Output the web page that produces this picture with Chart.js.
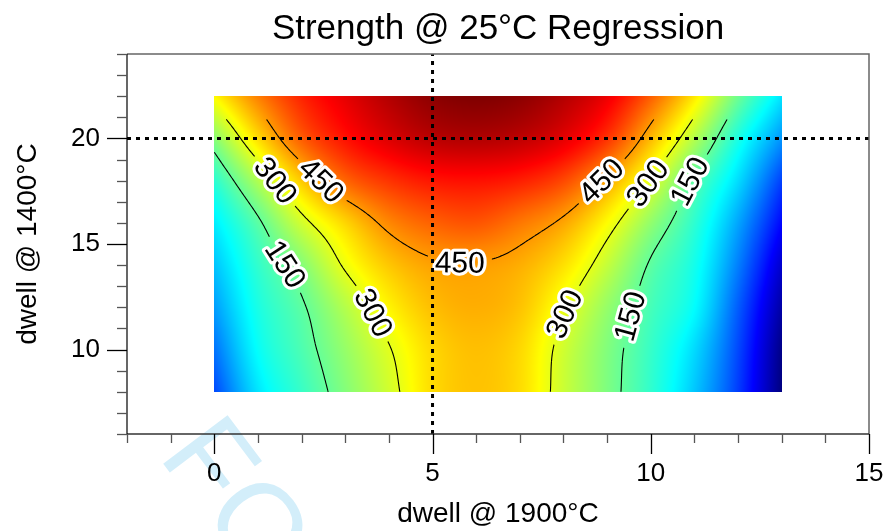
<!DOCTYPE html>
<html>
<head>
<meta charset="utf-8">
<title>Strength @ 25°C Regression</title>
<script src="https://cdn.jsdelivr.net/npm/chart.js@4.4.1/dist/chart.umd.min.js"></script>
<style>
  html, body { margin: 0; padding: 0; background: #ffffff; }
  #wrap { width: 889px; height: 531px; }
</style>
</head>
<body>
<div id="wrap"><canvas id="chart" width="889" height="531"></canvas></div>
<script>
// ---- regression surface samples (strength), rows = dwell @ 1400°C, columns = dwell @ 1900°C
const gridX = [0, 1, 2, 3, 4, 5, 6, 7, 8, 9, 10, 11, 12, 13];
const gridY = [8, 10, 12, 14, 16, 18, 20, 22];
const rowY8  = [-185,   0,  95, 185, 275, 370, 400, 370, 268, 178,  86, -36, -200, -420];
const rowY10 = [-135,  35, 120, 207, 295, 375, 405, 375, 275, 183,  94, -12, -185, -410];
const rowY12 = [ -85,  59, 140, 242, 340, 405, 425, 400, 310, 207, 113,  30, -160, -375];
const rowY14 = [ -40,  88, 187, 310, 395, 440, 446, 425, 365, 261, 141,  52, -120, -330];
const rowY16 = [  10, 137, 276, 378, 470, 515, 530, 490, 435, 331, 203,  83,  -75, -265];
const rowY18 = [  80, 237, 392, 510, 570, 605, 612, 595, 545, 436, 297, 136,  -10, -195];
const rowY20 = [ 190, 369, 520, 610, 670, 710, 720, 705, 660, 570, 412, 242,   62,  -95];
const rowY22 = [ 335, 480, 590, 660, 720, 765, 780, 765, 720, 650, 520, 356,  160,    0];
const strength = [rowY8, rowY10, rowY12, rowY14, rowY16, rowY18, rowY20, rowY22];

// colour scale limits and contour settings
const colorMin = -420;
const colorMax = 780;
const contourLevels = [150, 300, 450];
const contourTopY = 20.9;

// contour labels: level and approximate anchor
const labelLevels = [150, 300, 300, 450, 450, 450, 300, 150, 300, 150];
const labelX = [1.70, 1.39, 3.57, 2.46, 5.64, 8.87, 9.94, 10.90, 8.03, 9.48];
const labelY = [14.10, 18.00, 11.67, 18.03, 14.16, 17.95, 17.88, 17.95, 11.67, 11.58];

// cross-hair at the selected point
const crossX = 5;
const crossY = 20;

// axes
const xAxisMin = -2, xAxisMax = 15;
const yAxisMin = 6, yAxisMax = 24;
const majorStep = 5;

const FONT = '"Liberation Sans", Arial, Helvetica, sans-serif';
const stampText = 'FOR REVIEW';

// ---- surface evaluation (Catmull-Rom bicubic through the samples)
const nCols = gridX.length, nRows = gridY.length;
function gv(i, j) {
  if (i < 0) return 2 * gv(0, j) - gv(1, j);
  if (i > nCols - 1) return 2 * gv(nCols - 1, j) - gv(nCols - 2, j);
  if (j < 0) return 2 * gv(i, 0) - gv(i, 1);
  if (j > nRows - 1) return 2 * gv(i, nRows - 1) - gv(i, nRows - 2);
  return strength[j][i];
}
function cr(p0, p1, p2, p3, t) {
  return 0.5 * (2 * p1 + (-p0 + p2) * t + (2 * p0 - 5 * p1 + 4 * p2 - p3) * t * t +
    (-p0 + 3 * p1 - 3 * p2 + p3) * t * t * t);
}
function field(xv, yv) {
  const fx = (xv - gridX[0]) / (gridX[1] - gridX[0]);
  const fy = (yv - gridY[0]) / (gridY[1] - gridY[0]);
  const i = Math.max(0, Math.min(nCols - 2, Math.floor(fx)));
  const j = Math.max(0, Math.min(nRows - 2, Math.floor(fy)));
  const tx = fx - i, ty = fy - j;
  const r = [];
  for (let m = -1; m <= 2; m++) {
    r.push(cr(gv(i - 1, j + m), gv(i, j + m), gv(i + 1, j + m), gv(i + 2, j + m), tx));
  }
  return cr(r[0], r[1], r[2], r[3], ty);
}
function clamp01(v) { return v < 0 ? 0 : v > 1 ? 1 : v; }
function jet(t) {
  t = clamp01(t);
  return [
    255 * clamp01(1.5 - Math.abs(4 * t - 3)),
    255 * clamp01(1.5 - Math.abs(4 * t - 2)),
    255 * clamp01(1.5 - Math.abs(4 * t - 1))
  ];
}

// ---- contour extraction (marching squares on a fine resample)
function contourSegments(level) {
  const step = 0.05;
  const ni = Math.round((gridX[nCols - 1] - gridX[0]) / step);
  const nj = Math.round((contourTopY - gridY[0]) / step);
  const xs = [], ys = [];
  for (let i = 0; i <= ni; i++) xs.push(gridX[0] + i * step);
  for (let j = 0; j <= nj; j++) ys.push(Math.min(contourTopY, gridY[0] + j * step));
  const F = ys.map(yy => xs.map(xx => field(xx, yy)));
  const segs = [];
  for (let j = 0; j < nj; j++) {
    for (let i = 0; i < ni; i++) {
      const a = F[j][i], b = F[j][i + 1], c = F[j + 1][i + 1], d = F[j + 1][i];
      const x0 = xs[i], x1 = xs[i + 1], y0 = ys[j], y1 = ys[j + 1];
      const p = [];
      if ((a - level) * (b - level) < 0) p.push([x0 + (x1 - x0) * (level - a) / (b - a), y0]);
      if ((b - level) * (c - level) < 0) p.push([x1, y0 + (y1 - y0) * (level - b) / (c - b)]);
      if ((c - level) * (d - level) < 0) p.push([x1 + (x0 - x1) * (level - c) / (d - c), y1]);
      if ((d - level) * (a - level) < 0) p.push([x0, y1 + (y0 - y1) * (level - d) / (a - d)]);
      if (p.length >= 2) segs.push([p[0], p[1]]);
      if (p.length === 4) segs.push([p[2], p[3]]);
    }
  }
  return segs;
}
const contours = contourLevels.map(level => ({ level, segs: contourSegments(level) }));

// ---- plugin: colour surface, contour lines and their labels
const surfacePlugin = {
  id: 'surface',
  beforeDraw(chart) {
    // faint diagonal stamp in the lower left margin
    const { ctx, scales: { x } } = chart;
    ctx.save();
    ctx.translate(x.getPixelForValue(-1.3), 456);
    ctx.rotate(53 * Math.PI / 180);
    ctx.font = '117px ' + FONT;
    ctx.fillStyle = '#d3eefa';
    ctx.textBaseline = 'alphabetic';
    ctx.textAlign = 'left';
    ctx.fillText(stampText, 0, 0);
    ctx.restore();
  },
  beforeDatasetsDraw(chart) {
    const { ctx, chartArea, scales: { x, y } } = chart;
    const left = x.getPixelForValue(gridX[0]);
    const right = x.getPixelForValue(gridX[nCols - 1]);
    const top = y.getPixelForValue(gridY[nRows - 1]);
    const bottom = y.getPixelForValue(gridY[0]);
    const w = Math.round(right - left), h = Math.round(bottom - top);
    const off = document.createElement('canvas');
    off.width = w; off.height = h;
    const octx = off.getContext('2d');
    const img = octx.createImageData(w, h);
    for (let py = 0; py < h; py++) {
      const yv = y.getValueForPixel(top + (py + 0.5) * (bottom - top) / h);
      for (let px = 0; px < w; px++) {
        const xv = x.getValueForPixel(left + (px + 0.5) * (right - left) / w);
        const col = jet((field(xv, yv) - colorMin) / (colorMax - colorMin));
        const k = (py * w + px) * 4;
        img.data[k] = col[0]; img.data[k + 1] = col[1]; img.data[k + 2] = col[2]; img.data[k + 3] = 255;
      }
    }
    octx.putImageData(img, 0, 0);
    ctx.save();
    ctx.imageSmoothingEnabled = true;
    ctx.drawImage(off, left, top, right - left, bottom - top);
    ctx.restore();

    // label placement: snap to the computed contour, align with it
    ctx.save();
    ctx.font = '30px ' + FONT;
    const labels = labelLevels.map((level, n) => {
      const segs = contours.find(c => c.level === level).segs;
      const tx = x.getPixelForValue(labelX[n]), ty = y.getPixelForValue(labelY[n]);
      let best = null, bd = Infinity;
      for (const s of segs) {
        const mx = x.getPixelForValue((s[0][0] + s[1][0]) / 2);
        const my = y.getPixelForValue((s[0][1] + s[1][1]) / 2);
        const dd = (mx - tx) * (mx - tx) + (my - ty) * (my - ty);
        if (dd < bd) { bd = dd; best = [mx, my]; }
      }
      const e = 1.5;
      const gx = field(x.getValueForPixel(best[0] + e), y.getValueForPixel(best[1])) -
                 field(x.getValueForPixel(best[0] - e), y.getValueForPixel(best[1]));
      const gy = field(x.getValueForPixel(best[0]), y.getValueForPixel(best[1] + e)) -
                 field(x.getValueForPixel(best[0]), y.getValueForPixel(best[1] - e));
      let ang = Math.atan2(gx, -gy);
      if (ang > Math.PI / 2) ang -= Math.PI;
      if (ang <= -Math.PI / 2) ang += Math.PI;
      const text = String(level);
      const tw = ctx.measureText(text).width;
      return { px: best[0], py: best[1], ang, text, hw: tw / 2 + 7, hh: 14 };
    });
    ctx.restore();

    // contour lines, interrupted under the labels
    ctx.save();
    ctx.beginPath();
    ctx.rect(chartArea.left, chartArea.top, chartArea.width, chartArea.height);
    for (const L of labels) {
      const c = Math.cos(L.ang), s = Math.sin(L.ang);
      const pts = [[-L.hw, -L.hh], [L.hw, -L.hh], [L.hw, L.hh], [-L.hw, L.hh]];
      pts.forEach((p, k) => {
        const X = L.px + p[0] * c - p[1] * s, Y = L.py + p[0] * s + p[1] * c;
        if (k === 0) ctx.moveTo(X, Y); else ctx.lineTo(X, Y);
      });
      ctx.closePath();
    }
    ctx.clip('evenodd');
    ctx.strokeStyle = '#000000';
    ctx.lineWidth = 1.1;
    ctx.beginPath();
    for (const c of contours) {
      for (const s of c.segs) {
        ctx.moveTo(x.getPixelForValue(s[0][0]), y.getPixelForValue(s[0][1]));
        ctx.lineTo(x.getPixelForValue(s[1][0]), y.getPixelForValue(s[1][1]));
      }
    }
    ctx.stroke();
    ctx.restore();

    // label text with a white halo
    ctx.save();
    ctx.font = '30px ' + FONT;
    ctx.textAlign = 'center';
    ctx.textBaseline = 'middle';
    ctx.lineJoin = 'round';
    for (const L of labels) {
      ctx.save();
      ctx.translate(L.px, L.py);
      ctx.rotate(L.ang);
      ctx.lineWidth = 6;
      ctx.strokeStyle = '#ffffff';
      ctx.strokeText(L.text, 0, 1);
      ctx.fillStyle = '#000000';
      ctx.fillText(L.text, 0, 1);
      ctx.restore();
    }
    ctx.restore();
  },
  afterDraw(chart) {
    const { ctx, chartArea: a, scales: { x, y } } = chart;
    ctx.save();
    // frame
    ctx.lineWidth = 1.5;
    ctx.strokeStyle = '#666666';
    ctx.beginPath();
    ctx.moveTo(a.left, a.top); ctx.lineTo(a.right, a.top); ctx.lineTo(a.right, a.bottom);
    ctx.stroke();
    ctx.strokeStyle = '#333333';
    ctx.beginPath();
    ctx.moveTo(a.left, a.bottom); ctx.lineTo(a.right, a.bottom);
    ctx.stroke();
    ctx.strokeStyle = '#000000';
    ctx.lineWidth = 1.2;
    ctx.beginPath();
    ctx.moveTo(a.left, a.top); ctx.lineTo(a.left, a.bottom);
    ctx.stroke();
    // tick marks
    for (let v = xAxisMin; v <= xAxisMax; v++) {
      const px = Math.round(x.getPixelForValue(v)) + 0.5;
      const major = v % majorStep === 0;
      ctx.strokeStyle = major ? '#000000' : '#555555';
      ctx.lineWidth = 1.3;
      ctx.beginPath();
      ctx.moveTo(px, a.bottom); ctx.lineTo(px, a.bottom + (major ? 20 : 9));
      ctx.stroke();
    }
    for (let v = yAxisMin; v <= yAxisMax; v++) {
      const py = Math.round(y.getPixelForValue(v)) + 0.5;
      const major = v % majorStep === 0;
      ctx.strokeStyle = major ? '#000000' : '#555555';
      ctx.lineWidth = 1.3;
      ctx.beginPath();
      ctx.moveTo(a.left, py); ctx.lineTo(a.left - (major ? 20 : 10), py);
      ctx.stroke();
    }
    ctx.restore();
  }
};

const dotted = { showLine: true, borderColor: '#000000', borderWidth: 3, borderDash: [4, 5],
  pointRadius: 0, fill: false, tension: 0 };

new Chart(document.getElementById('chart'), {
  type: 'scatter',
  data: {
    datasets: [
      Object.assign({ data: [{ x: crossX, y: yAxisMin }, { x: crossX, y: yAxisMax }] }, dotted),
      Object.assign({ data: [{ x: xAxisMin, y: crossY }, { x: xAxisMax, y: crossY }] }, dotted)
    ]
  },
  options: {
    responsive: false,
    animation: false,
    devicePixelRatio: 1,
    layout: { padding: { left: 0, right: 20, top: 0, bottom: 0 } },
    plugins: {
      legend: { display: false },
      tooltip: { enabled: false },
      title: {
        display: true,
        fullSize: false,
        text: 'Strength @ 25°C Regression',
        color: '#000000',
        font: { family: FONT, size: 35, weight: 'normal', lineHeight: 1.2 },
        padding: { top: 8, bottom: 4 }
      }
    },
    scales: {
      x: {
        type: 'linear', min: xAxisMin, max: xAxisMax,
        afterFit(s) { s.height = 97; },
        border: { display: false },
        grid: { display: false, drawTicks: true, tickLength: 20 },
        ticks: {
          stepSize: 1, autoSkip: false, maxRotation: 0, padding: 4, color: '#000000',
          font: { family: FONT, size: 26 },
          callback: v => (v % majorStep === 0 ? String(v) : '')
        },
        title: {
          display: true, text: 'dwell @ 1900°C', color: '#000000',
          font: { family: FONT, size: 28 }, padding: { top: 0, bottom: 0 }
        }
      },
      y: {
        type: 'linear', min: yAxisMin, max: yAxisMax,
        afterFit(s) { s.width = 127; },
        border: { display: false },
        grid: { display: false, drawTicks: true, tickLength: 20 },
        ticks: {
          stepSize: 1, autoSkip: false, padding: 7, color: '#000000',
          font: { family: FONT, size: 26 },
          callback: v => (v % majorStep === 0 ? String(v) : '')
        },
        title: {
          display: true, text: 'dwell @ 1400°C', color: '#000000',
          font: { family: FONT, size: 28 }, padding: { top: 11, bottom: 0 }
        }
      }
    }
  },
  plugins: [surfacePlugin]
});
</script>
</body>
</html>
